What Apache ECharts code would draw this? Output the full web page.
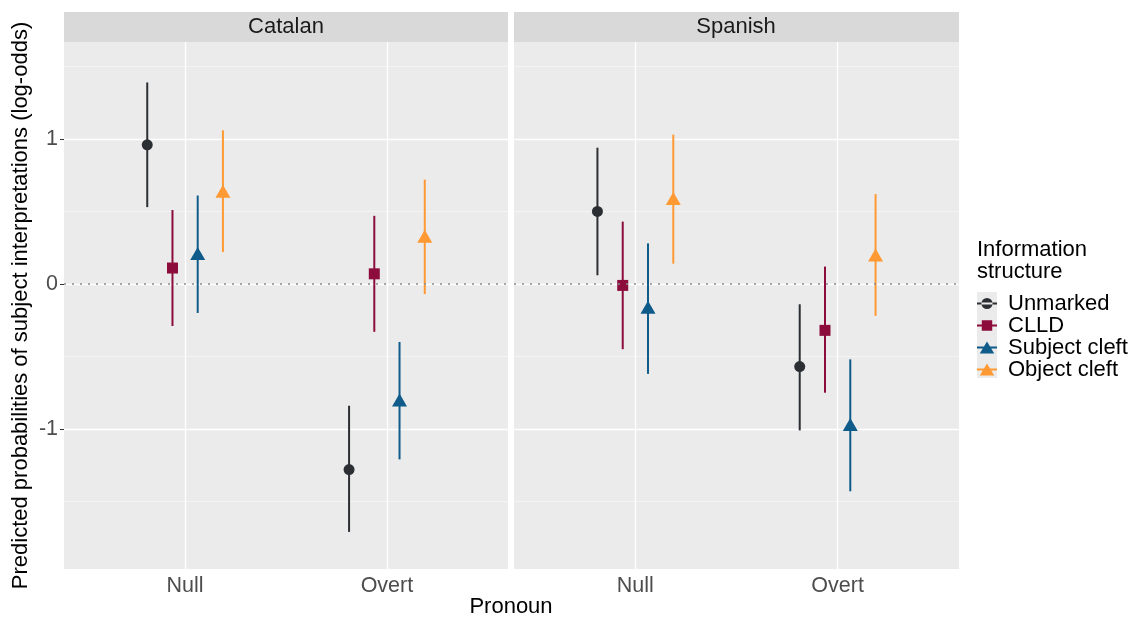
<!DOCTYPE html>
<html>
<head>
<meta charset="utf-8">
<script src="https://cdn.jsdelivr.net/npm/echarts@6/dist/echarts.min.js"></script>
<style>html,body{margin:0;padding:0;background:#fff}#c{width:1134px;height:618px}</style>
</head>
<body>
<div id="c"></div>
<script>
// ---- data ----
const panels = ['Catalan', 'Spanish'];
const pronouns = ['Null', 'Overt'];
const groups = ['Unmarked', 'CLLD', 'Subject cleft', 'Object cleft'];
// per group: [Null, Overt]
const catalanEstimate = [[0.96, -1.28], [0.11, 0.07], [0.21, -0.80], [0.64, 0.33]];
const catalanLower    = [[0.53, -1.71], [-0.29, -0.33], [-0.20, -1.21], [0.22, -0.07]];
const catalanUpper    = [[1.39, -0.84], [0.51, 0.47], [0.61, -0.40], [1.06, 0.72]];
const spanishEstimate = [[0.50, -0.57], [-0.01, -0.32], [-0.16, -0.97], [0.59, 0.20]];
const spanishLower    = [[0.06, -1.01], [-0.45, -0.75], [-0.62, -1.43], [0.14, -0.22]];
const spanishUpper    = [[0.94, -0.14], [0.43, 0.12], [0.28, -0.52], [1.03, 0.62]];
const yTicks = [-1, 0, 1];
const yMinor = [-1.5, -0.5, 0.5, 1.5];

// ---- styles ----
const colors = ['#2b2f33', '#8c0c3c', '#0f5b8a', '#ff9933'];
const symbols = ['circle', 'rect', 'triangle', 'triangle'];
const symbolSizes = [11, 11, [15, 13], [15, 13]];
const dodge = [-0.1875, -0.0625, 0.0625, 0.1875];
const FONT = 'Liberation Sans, Arial, sans-serif';

const panelData = [
  [catalanEstimate, catalanLower, catalanUpper],
  [spanishEstimate, spanishLower, spanishUpper]
];

const grids = [
  {left: 64, top: 42, width: 444, height: 527},
  {left: 514, top: 42, width: 445, height: 527}
];

const xAxes = grids.map((g, i) => ({
  type: 'value', gridIndex: i, min: 0.4, max: 2.6,
  splitLine: {show: false}, axisLine: {show: false},
  axisTick: {show: true, customValues: [1, 2], length: 4, lineStyle: {color: '#333', width: 1}},
  axisLabel: {show: true, customValues: [1, 2], formatter: v => pronouns[Math.round(v) - 1],
    color: '#4d4d4d', fontSize: 21.5, fontFamily: FONT, margin: 6}
}));
const yAxes = grids.map((g, i) => ({
  type: 'value', gridIndex: i, min: -1.966, max: 1.669,
  splitLine: {show: false}, axisLine: {show: false},
  axisTick: {show: i === 0, customValues: yTicks, length: 4, lineStyle: {color: '#333', width: 1}},
  axisLabel: {show: i === 0, customValues: yTicks, color: '#4d4d4d', fontSize: 21.5, fontFamily: FONT, margin: 6},
  name: i === 0 ? 'Predicted probabilities of subject interpretations (log-odds)' : '',
  nameLocation: 'middle', nameGap: 32, nameRotate: 90,
  nameTextStyle: {color: '#000', fontSize: 22, fontFamily: FONT}
}));

const series = [];
grids.forEach((g, pi) => {
  // grid lines (below marks)
  series.push({
    type: 'scatter', name: 'gridlines' + pi, xAxisIndex: pi, yAxisIndex: pi, data: [], z: 1, silent: true,
    markLine: {
      silent: true, symbol: 'none', label: {show: false}, animation: false, z: 1,
      data: [
        ...yMinor.map(v => ({yAxis: v, lineStyle: {color: '#f4f4f4', width: 1, type: 'solid'}})),
        ...yTicks.map(v => ({yAxis: v, lineStyle: {color: '#ffffff', width: 1.3, type: 'solid'}})),
        {xAxis: 1, lineStyle: {color: '#ffffff', width: 1.3, type: 'solid'}},
        {xAxis: 2, lineStyle: {color: '#ffffff', width: 1.3, type: 'solid'}}
      ]
    }
  });
  // dotted zero reference line (drawn on top, as in the original)
  series.push({
    type: 'scatter', name: 'zeroline' + pi, xAxisIndex: pi, yAxisIndex: pi, data: [], z: 6, silent: true,
    markLine: {
      silent: true, symbol: 'none', label: {show: false}, animation: false, z: 6,
      data: [{yAxis: 0, lineStyle: {color: '#8c8c8c', width: 1.6, type: [2, 6]}}]
    }
  });
  const [est, lo, hi] = panelData[pi];
  groups.forEach((name, gi) => {
    series.push({
      type: 'custom', name: name, xAxisIndex: pi, yAxisIndex: pi, z: 3,
      data: pronouns.map((p, k) => [k + 1 + dodge[gi], lo[gi][k], hi[gi][k]]),
      encode: {x: 0, y: [1, 2]},
      renderItem: (params, api) => {
        const a = api.coord([api.value(0), api.value(1)]);
        const b = api.coord([api.value(0), api.value(2)]);
        return {type: 'line', shape: {x1: a[0], y1: a[1], x2: b[0], y2: b[1]},
          style: {stroke: colors[gi], lineWidth: 2}};
      }
    });
    series.push({
      type: 'scatter', name: name, xAxisIndex: pi, yAxisIndex: pi, z: 4,
      symbol: symbols[gi], symbolSize: symbolSizes[gi],
      itemStyle: {color: colors[gi], opacity: 1},
      data: pronouns.map((p, k) => [k + 1 + dodge[gi], est[gi][k]])
    });
  });
});

const bar = 'M1,6.2h18v1.6h-18z ';
const icons = [
  'path://' + bar + 'M5,7a5,5 0 1,0 10,0a5,5 0 1,0 -10,0z',
  'path://' + bar + 'M5.3,2.3h9.4v9.4h-9.4z',
  'path://' + bar + 'M10,1.5L16.5,12.5L3.5,12.5z',
  'path://' + bar + 'M10,1.5L16.5,12.5L3.5,12.5z'
];

const option = {
  animation: false,
  backgroundColor: '#ffffff',
  grid: grids.map(g => Object.assign({show: true, backgroundColor: '#ebebeb', borderWidth: 0}, g)),
  xAxis: xAxes,
  yAxis: yAxes,
  legend: {
    orient: 'vertical', left: 977, top: 292.5, itemWidth: 20, itemHeight: 14, itemGap: 0,
    padding: 0, selectedMode: false,
    textStyle: {color: '#000', fontSize: 22, fontFamily: FONT, lineHeight: 22, padding: [0, 0, 0, 6]},
    data: groups.map((g, i) => ({name: g, icon: icons[i], itemStyle: {color: colors[i]}}))
  },
  graphic: [
    {type: 'rect', left: 977, top: 292, shape: {width: 20, height: 86}, style: {fill: '#ebebeb'}, z: -1},
    {type: 'rect', left: 64, top: 12, shape: {width: 444, height: 30}, style: {fill: '#d9d9d9'}},
    {type: 'rect', left: 514, top: 12, shape: {width: 445, height: 30}, style: {fill: '#d9d9d9'}},
    {type: 'text', x: 286, y: 27, style: {text: panels[0], fill: '#1a1a1a', font: '22px ' + FONT, textAlign: 'center', textVerticalAlign: 'middle'}},
    {type: 'text', x: 736, y: 27, style: {text: panels[1], fill: '#1a1a1a', font: '22px ' + FONT, textAlign: 'center', textVerticalAlign: 'middle'}},
    {type: 'text', x: 511, y: 607, style: {text: 'Pronoun', fill: '#000', font: '22px ' + FONT, textAlign: 'center', textVerticalAlign: 'middle'}},
    {type: 'text', left: 977, top: 239, style: {text: 'Information\nstructure', fill: '#000', font: '22px ' + FONT, lineHeight: 22}}
  ],
  series: series
};

const chart = echarts.init(document.getElementById('c'), null, {renderer: 'canvas'});
chart.setOption(option);
</script>
</body>
</html>
